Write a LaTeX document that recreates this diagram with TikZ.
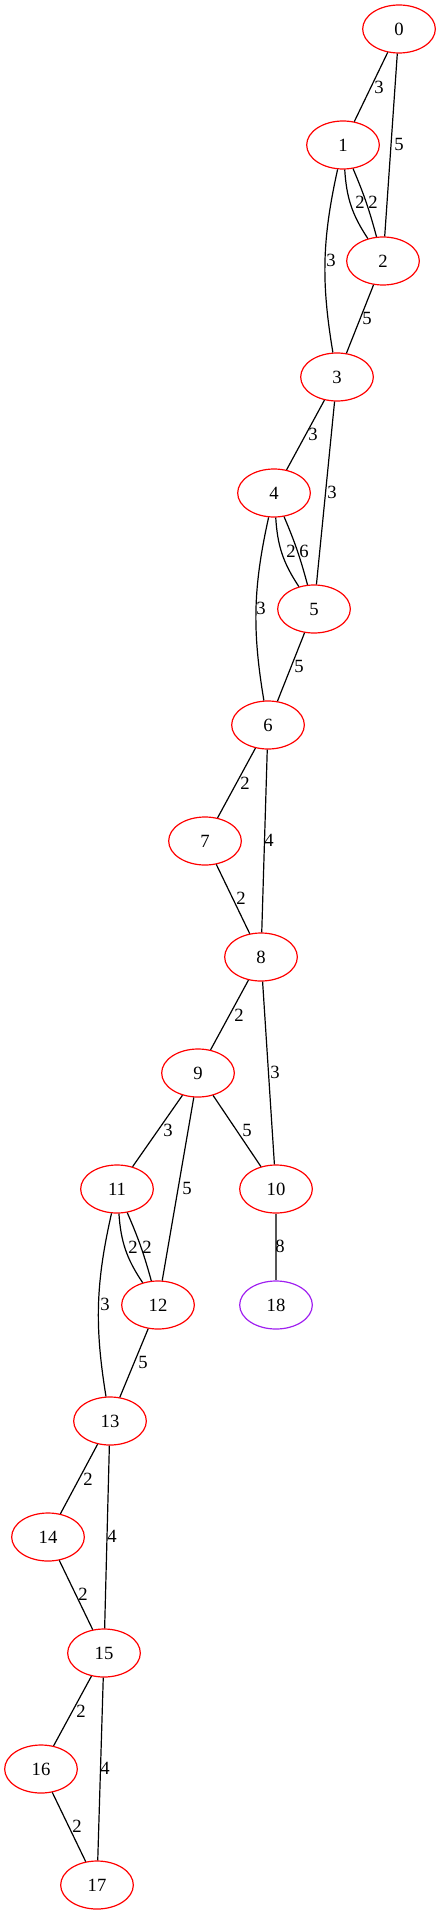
\documentclass[tikz,border=0pt]{standalone}
\usepackage{fontspec}
\setmainfont{Liberation Serif}
\usetikzlibrary{shapes.geometric}
\definecolor{gvred}{HTML}{FF0000}
\definecolor{gvpurple}{HTML}{A020F0}
\definecolor{gvgray}{HTML}{555555}
\tikzset{
  vert/.style={ellipse, draw=gvred, line width=0.9pt, minimum width=54.5pt, minimum height=36pt, inner sep=0pt, font=\fontsize{14}{16}\selectfont},
  vertp/.style={vert, draw=gvpurple},
  edge/.style={draw=black, line width=0.9pt},
  edgeg/.style={draw=gvgray, line width=1.5pt},
  elab/.style={font=\fontsize{14}{16}\selectfont, inner sep=0pt}
}
\begin{document}
\begin{tikzpicture}[x=0.75pt,y=-0.75pt]
\useasboundingbox (0,0) rectangle (441,1915);
\node[vert] (n0) at (399,29) {0};
\node[vert] (n1) at (343,145) {1};
\node[vert] (n2) at (383,261) {2};
\node[vert] (n3) at (337,377) {3};
\node[vert] (n4) at (274,493) {4};
\node[vert] (n5) at (314,609) {5};
\node[vert] (n6) at (268,725) {6};
\node[vert] (n7) at (205,841) {7};
\node[vert] (n8) at (261,957) {8};
\node[vert] (n9) at (198,1073) {9};
\node[vert] (n10) at (276,1189) {10};
\node[vert] (n11) at (117,1189) {11};
\node[vert] (n12) at (158,1305) {12};
\node[vertp] (n18) at (276,1305) {18};
\node[vert] (n13) at (110,1421) {13};
\node[vert] (n14) at (48,1537) {14};
\node[vert] (n15) at (104,1653) {15};
\node[vert] (n16) at (41,1769) {16};
\node[vert] (n17) at (97,1885) {17};

\draw[edge] (n0) -- (n1) node[elab] at (379,87) {3};
\draw[edge] (n0) -- (n2) node[elab] at (399,144) {5};
\draw[edge] (n1) to[bend right=15] (n2) node[elab] at (360,202) {2};
\draw[edge] (n1) to[bend left=4] (n2) node[elab] at (373,202) {2};
\draw[edge] (n1) to[bend right=11] (n3) node[elab] at (331,260) {3};
\draw[edge] (n2) -- (n3) node[elab] at (367,318) {5};
\draw[edge] (n3) -- (n4) node[elab] at (313,434) {3};
\draw[edge] (n3) -- (n5) node[elab] at (332,492) {3};
\draw[edge] (n4) to[bend right=15] (n5) node[elab] at (291,551) {2};
\draw[edge] (n4) to[bend left=4] (n5) node[elab] at (304,551) {6};
\draw[edge] (n4) to[bend right=11] (n6) node[elab] at (261,608) {3};
\draw[edge] (n5) -- (n6) node[elab] at (299,666) {5};
\draw[edge] (n6) -- (n7) node[elab] at (245,783) {2};
\draw[edge] (n6) -- (n8) node[elab] at (269,840) {4};
\draw[edge] (n7) -- (n8) node[elab] at (241,898) {2};
\draw[edge] (n8) -- (n9) node[elab] at (239,1015) {2};
\draw[edge] (n8) -- (n10) node[elab] at (275,1072) {3};
\draw[edge] (n9) -- (n11) node[elab] at (168,1130) {3};
\draw[edge] (n9) -- (n10) node[elab] at (247,1130) {5};
\draw[edge] (n9) -- (n12) node[elab] at (187,1188) {5};
\draw[edgeg] (n10) -- (n18) node[elab] at (280,1246) {8};
\draw[edge] (n11) to[bend right=15] (n12) node[elab] at (133,1247) {2};
\draw[edge] (n11) to[bend left=4] (n12) node[elab] at (147,1247) {2};
\draw[edge] (n11) to[bend right=11] (n13) node[elab] at (105,1304) {3};
\draw[edge] (n12) -- (n13) node[elab] at (143,1362) {5};
\draw[edge] (n13) -- (n14) node[elab] at (88,1479) {2};
\draw[edge] (n13) -- (n15) node[elab] at (112,1536) {4};
\draw[edge] (n14) -- (n15) node[elab] at (83,1594) {2};
\draw[edge] (n15) -- (n16) node[elab] at (81,1711) {2};
\draw[edge] (n15) -- (n17) node[elab] at (105,1768) {4};
\draw[edge] (n16) -- (n17) node[elab] at (77,1826) {2};
\end{tikzpicture}
\end{document}
